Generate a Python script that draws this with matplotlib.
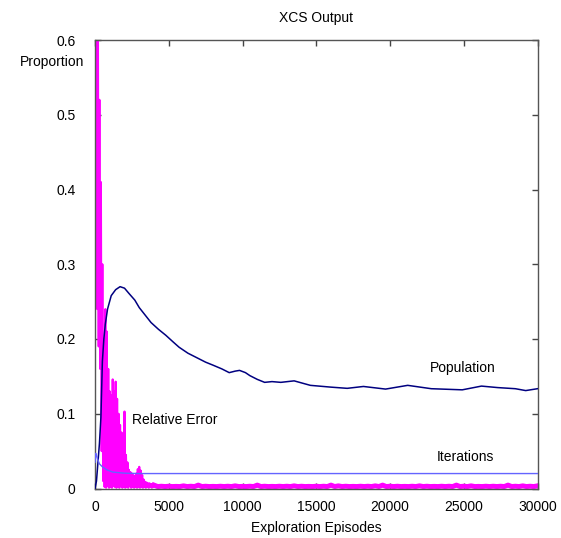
import matplotlib
matplotlib.use('Agg')
import matplotlib.pyplot as plt

plt.rcParams['font.family'] = ['Liberation Sans', 'DejaVu Sans']
plt.rcParams['font.size'] = 10
plt.rcParams['path.simplify'] = False

# population curve (proportion vs exploration episodes)
pop_ep = [0, 100, 200, 300, 400, 500, 600, 700, 850, 1100,
          1400, 1700, 2000, 2300, 2700, 3000, 3400, 3800, 4300, 4800,
          5300, 5700, 6300, 6900, 7500, 8000, 8600, 9100, 9500, 9800,
          10200, 10500, 11000, 11500, 12000, 12600, 13500, 14600, 16000, 17100,
          18200, 19700, 21200, 22800, 24900, 26200, 27300, 28500, 29200, 30000]
pop_val = [0, 0.01, 0.035, 0.06, 0.095, 0.17, 0.2, 0.22, 0.24, 0.258,
           0.266, 0.27, 0.268, 0.261, 0.252, 0.242, 0.232, 0.222, 0.213, 0.205,
           0.196, 0.189, 0.181, 0.175, 0.169, 0.165, 0.16, 0.155, 0.157, 0.158,
           0.155, 0.151, 0.146, 0.142, 0.143, 0.142, 0.144, 0.138, 0.1356, 0.134,
           0.1365, 0.133, 0.138, 0.1335, 0.132, 0.137, 0.135, 0.1335, 0.131, 0.1335]

# iterations curve
it_ep = [0, 50, 100, 200, 300, 500, 800, 1200, 2000, 3000, 30000]
it_val = [0.035, 0.047, 0.044, 0.038, 0.033, 0.029, 0.025, 0.022, 0.0205, 0.02, 0.02]

# relative error, early part: upper and lower points of the noisy band
err_ep_hi = [0, 100, 200, 300, 400, 500, 600, 700, 800, 900,
             1000, 1100, 1200, 1300, 1400, 1500, 1600, 1700, 1800, 1900,
             2000, 2100, 2200, 2300, 2400, 2500, 2600, 2700, 2800, 2900,
             3000, 3100, 3200, 3300, 3400, 3500, 3600, 3700, 3800, 3900]
err_hi = [0.95, 0.8, 0.62, 0.52, 0.41, 0.3, 0.2, 0.24, 0.21, 0.16,
          0.13, 0.125, 0.146, 0.13, 0.143, 0.12, 0.1, 0.085, 0.075, 0.065,
          0.103, 0.045, 0.035, 0.025, 0.022, 0.02, 0.018, 0.016, 0.02, 0.026,
          0.029, 0.024, 0.018, 0.012, 0.009, 0.008, 0.007, 0.007, 0.006, 0.006]
err_ep_lo = [50, 150, 250, 350, 450, 550, 650, 750, 850, 950,
             1050, 1150, 1250, 1350, 1450, 1550, 1650, 1750, 1850, 1950,
             2050, 2150, 2250, 2350, 2450, 2550, 2650, 2750, 2850, 2950,
             3050, 3150, 3250, 3350, 3450, 3550, 3650, 3750, 3850, 3950]
err_lo = [0.33, 0.24, 0.19, 0.16, 0.05, 0.01, 0.002, 0.001, 0.003, 0.001,
          0.002, 0.001, 0.003, 0.002, 0.001, 0.002, 0.001, 0.003, 0.001, 0.002,
          0.001, 0.002, 0.001, 0.003, 0.001, 0.002, 0.001, 0.002, 0.001, 0.002,
          0.001, 0.002, 0.001, 0.002, 0.001, 0.002, 0.001, 0.002, 0.001, 0.002]

# relative error, flat tail
tail_ep = [4000, 4500, 5000, 5500, 6000, 6500, 7000, 7500, 8000, 8500,
           9000, 9500, 10000, 10500, 11000, 11500, 12000, 12500, 13000, 13500,
           14000, 14500, 15000, 15500, 16000, 16500, 17000, 17500, 18000, 18500,
           19000, 19500, 20000, 20500, 21000, 21500, 22000, 22500, 23000, 23500,
           24000, 24500, 25000, 25500, 26000, 26500, 27000, 27500, 28000, 28500,
           29000, 29500, 30000]
tail_hi = [0.0045, 0.003, 0.003, 0.0028, 0.0035, 0.003, 0.0045, 0.003, 0.0028, 0.003,
           0.003, 0.0035, 0.0028, 0.003, 0.0045, 0.003, 0.0028, 0.003, 0.003, 0.0035,
           0.003, 0.0028, 0.003, 0.003, 0.0045, 0.0035, 0.003, 0.0028, 0.003, 0.003,
           0.0035, 0.0045, 0.003, 0.003, 0.0028, 0.003, 0.0035, 0.003, 0.0028, 0.003,
           0.003, 0.0045, 0.003, 0.0035, 0.0028, 0.003, 0.003, 0.003, 0.0045, 0.003,
           0.0035, 0.003, 0.0035]
tail_lo = 0.0026

err_x, err_y = [], []
for a, b, c, d in zip(err_ep_hi, err_hi, err_ep_lo, err_lo):
    err_x += [a, c]
    err_y += [b, d]

tail_x, tail_y = [], []
for i, (a, b) in enumerate(zip(tail_ep, tail_hi)):
    tail_x.append(a)
    tail_y.append(b)
    if i < len(tail_ep) - 1:
        tail_x.append((a + tail_ep[i + 1]) / 2)
        tail_y.append(tail_lo)

fig = plt.figure(figsize=(5.61, 5.38), dpi=100)
ax = fig.add_axes([95 / 561, 49.5 / 538, 442.5 / 561, 448.5 / 538])

ax.plot(err_x, err_y, color='#ff00ff', lw=1.5, zorder=2)
ax.plot(tail_x, tail_y, color='#ff00ff', lw=3.6, zorder=2)
ax.plot(pop_ep, pop_val, color='#000080', lw=1.1, zorder=3)
ax.plot(it_ep, it_val, color='#6464ff', lw=1.0, zorder=3)

ax.set_xlim(0, 30000)
ax.set_ylim(0, 0.6)
ax.set_xticks([0, 5000, 10000, 15000, 20000, 25000, 30000])
ax.set_yticks([0, 0.1, 0.2, 0.3, 0.4, 0.5, 0.6])
ax.set_yticklabels(['0', '0.1', '0.2', '0.3', '0.4', '0.5', '0.6'])
ax.tick_params(direction='in', top=True, right=True, length=4, width=1,
               color='#444444', labelsize=10)
ax.tick_params(axis='y', pad=14)
ax.tick_params(axis='x', pad=8)
for s in ax.spines.values():
    s.set_color('#555555')
    s.set_linewidth(1)

ax.text(22700, 0.161, 'Population', va='center', ha='left')
ax.text(23150, 0.042, 'Iterations', va='center', ha='left')
ax.text(2500, 0.0916, 'Relative Error', va='center', ha='left')

fig.text(316 / 561, 1 - 18 / 538, 'XCS Output', ha='center', va='center')
fig.text(52 / 561, 1 - 62 / 538, 'Proportion', ha='center', va='center')
fig.text(316 / 561, 1 - 528 / 538, 'Exploration Episodes', ha='center', va='center')

fig.savefig('out.png', dpi=100)
